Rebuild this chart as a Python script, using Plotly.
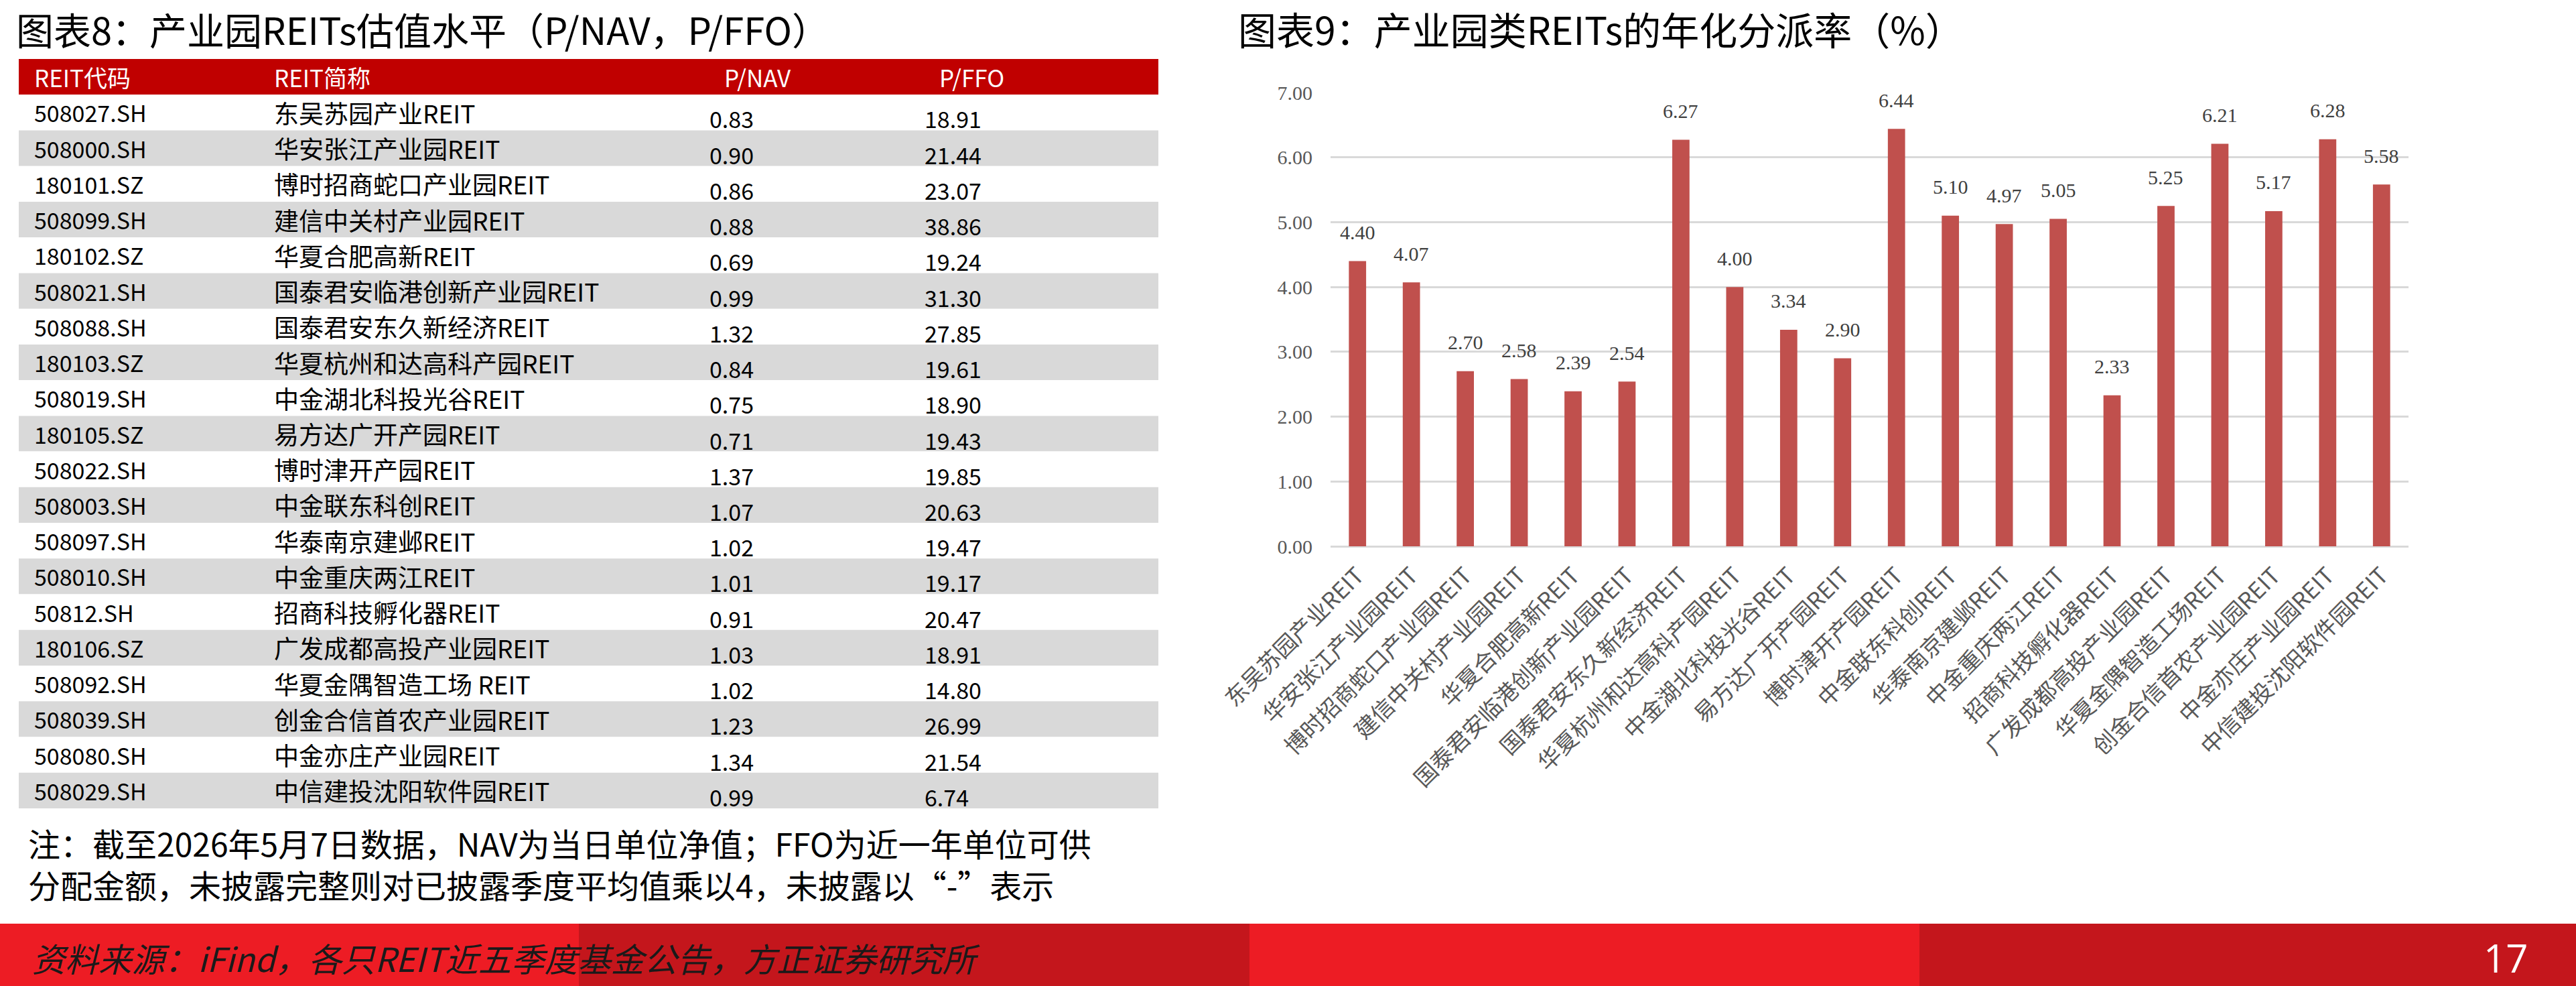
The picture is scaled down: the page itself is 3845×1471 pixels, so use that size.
import plotly.graph_objects as go

W, H = 3845, 1471

# ---------------- data ----------------
codes = ["508027.SH", "508000.SH", "180101.SZ", "508099.SH", "180102.SZ",
         "508021.SH", "508088.SH", "180103.SZ", "508019.SH", "180105.SZ",
         "508022.SH", "508003.SH", "508097.SH", "508010.SH", "50812.SH",
         "180106.SZ", "508092.SH", "508039.SH", "508080.SH", "508029.SH"]
names = ["东吴苏园产业REIT", "华安张江产业园REIT", "博时招商蛇口产业园REIT",
         "建信中关村产业园REIT", "华夏合肥高新REIT", "国泰君安临港创新产业园REIT",
         "国泰君安东久新经济REIT", "华夏杭州和达高科产园REIT", "中金湖北科投光谷REIT",
         "易方达广开产园REIT", "博时津开产园REIT", "中金联东科创REIT",
         "华泰南京建邺REIT", "中金重庆两江REIT", "招商科技孵化器REIT",
         "广发成都高投产业园REIT", "华夏金隅智造工场 REIT", "创金合信首农产业园REIT",
         "中金亦庄产业园REIT", "中信建投沈阳软件园REIT"]
p_nav = ["0.83", "0.90", "0.86", "0.88", "0.69", "0.99", "1.32", "0.84", "0.75", "0.71",
         "1.37", "1.07", "1.02", "1.01", "0.91", "1.03", "1.02", "1.23", "1.34", "0.99"]
p_ffo = ["18.91", "21.44", "23.07", "38.86", "19.24", "31.30", "27.85", "19.61", "18.90", "19.43",
         "19.85", "20.63", "19.47", "19.17", "20.47", "18.91", "14.80", "26.99", "21.54", "6.74"]
table_header = ["REIT代码", "REIT简称", "P/NAV", "P/FFO"]

chart_names = ["东吴苏园产业REIT", "华安张江产业园REIT", "博时招商蛇口产业园REIT",
               "建信中关村产业园REIT", "华夏合肥高新REIT", "国泰君安临港创新产业园REIT",
               "国泰君安东久新经济REIT", "华夏杭州和达高科产园REIT", "中金湖北科投光谷REIT",
               "易方达广开产园REIT", "博时津开产园REIT", "中金联东科创REIT",
               "华泰南京建邺REIT", "中金重庆两江REIT", "招商科技孵化器REIT",
               "广发成都高投产业园REIT", "华夏金隅智造工场REIT", "创金合信首农产业园REIT",
               "中金亦庄产业园REIT", "中信建投沈阳软件园REIT"]
dist_yield = [4.40, 4.07, 2.70, 2.58, 2.39, 2.54, 6.27, 4.00, 3.34, 2.90,
              6.44, 5.10, 4.97, 5.05, 2.33, 5.25, 6.21, 5.17, 6.28, 5.58]
y_ticks = [0, 1, 2, 3, 4, 5, 6, 7]

title_left = "图表8：产业园REITs估值水平（P/NAV，P/FFO）"
title_right = "图表9：产业园类REITs的年化分派率（%）"
note_lines = ["注：截至2026年5月7日数据，NAV为当日单位净值；FFO为近一年单位可供",
              "分配金额，未披露完整则对已披露季度平均值乘以4，未披露以“-”表示"]
source_text = "资料来源：iFind，各只REIT近五季度基金公告，方正证券研究所"
page_no = "17"

# ---------------- style / layout helpers ----------------
CJK = "Noto Sans CJK SC"
SERIF = "Liberation Serif"
RED = "#C00000"
BAR = "#C0504D"
GRID = "#D9D9D9"


def fx(p):
    return p / W


def fy(p):
    return 1 - p / H


fig = go.Figure()

# ---------------- bar chart ----------------
fig.add_trace(go.Bar(
    x=chart_names, y=dist_yield, xaxis="x", yaxis="y",
    marker=dict(color=BAR, line=dict(width=0)),
    hoverinfo="skip", showlegend=False,
))

annotations = []
for nm, v in zip(chart_names, dist_yield):
    annotations.append(dict(
        x=nm, y=v, xref="x", yref="y", text=f"{v:.2f}", showarrow=False,
        xanchor="center", yanchor="middle", yshift=43,
        font=dict(family=SERIF, size=30, color="#404040"),
    ))

# ---------------- table (drawn on its own axes) ----------------
n = len(codes)
row_idx = list(range(n + 1))  # 0 = header
row_colors = [RED] + [("#FFFFFF" if i % 2 == 1 else "#D9D9D9") for i in range(1, n + 1)]
TABLE_W = 1701
fig.add_trace(go.Bar(
    y=row_idx, x=[TABLE_W] * (n + 1), base=0, orientation="h", width=1,
    xaxis="x2", yaxis="y2", marker=dict(color=row_colors, line=dict(width=0)),
    hoverinfo="skip", showlegend=False,
))

col_x_body = [21, 379, 1029, 1350]
col_x_head = [21, 379, 1051, 1372]
body_sizes = [34, 37, 34, 34]
for j, h in enumerate(table_header):
    annotations.append(dict(
        x=col_x_head[j], y=0, xref="x2", yref="y2", text=h, showarrow=False,
        xanchor="left", yanchor="middle",
        font=dict(family=CJK, size=35, color="white"),
    ))
for i in range(n):
    cols = [codes[i], names[i], p_nav[i], p_ffo[i]]
    for j, t in enumerate(cols):
        annotations.append(dict(
            x=col_x_body[j], y=i + 1, xref="x2", yref="y2", text=t, showarrow=False,
            xanchor="left", yanchor="middle", yshift=(-9 if j >= 2 else 0),
            font=dict(family=CJK, size=body_sizes[j], color="black"),
        ))

shapes = [
    dict(type="line", xref="x2", yref="y2", x0=0, x1=TABLE_W, y0=n + 0.55, y1=n + 0.55,
         line=dict(color=RED, width=5)),
]

# ---------------- titles, note, footer ----------------
annotations += [
    dict(x=fx(22), y=fy(42), xref="paper", yref="paper", text=title_left, showarrow=False,
         xanchor="left", yanchor="middle", font=dict(family=CJK, size=56, color="black")),
    dict(x=fx(1846), y=fy(42), xref="paper", yref="paper", text=title_right, showarrow=False,
         xanchor="left", yanchor="middle", font=dict(family=CJK, size=57, color="black")),
    dict(x=fx(40), y=fy(1288), xref="paper", yref="paper", text="<br>".join(note_lines),
         showarrow=False, xanchor="left", yanchor="middle", align="left",
         font=dict(family=CJK, size=48, color="black")),
    dict(x=fx(46), y=fy(1428), xref="paper", yref="paper", text=source_text, showarrow=False,
         xanchor="left", yanchor="middle",
         font=dict(family=CJK, size=49.5, color="#1A1A1A", style="italic")),
    dict(x=fx(3740), y=fy(1428), xref="paper", yref="paper", text=page_no, showarrow=False,
         xanchor="center", yanchor="middle", font=dict(family="Open Sans", size=58, color="white")),
]

footer_bands = [(0, 864, "#ED1C24"), (864, 1865, "#C4161C"),
                (1865, 2865, "#ED1C24"), (2865, W, "#C4161C")]
for x0, x1, c in footer_bands:
    shapes.append(dict(type="rect", xref="paper", yref="paper", x0=fx(x0), x1=fx(x1),
                       y0=0, y1=fy(1378), fillcolor=c, line=dict(width=0), layer="below"))

fig.update_layout(
    width=W, height=H, margin=dict(l=0, r=0, t=0, b=0),
    paper_bgcolor="white", plot_bgcolor="rgba(0,0,0,0)",
    bargap=0.68, showlegend=False,
    annotations=annotations, shapes=shapes,
    xaxis=dict(domain=[fx(1986), fx(3595)], anchor="y", type="category",
               tickangle=-45, showgrid=False, showline=False, zeroline=False, ticks="",
               tickfont=dict(family=CJK, size=34, color="#595959"), automargin=False,
               ticklabelstandoff=16),
    yaxis=dict(domain=[fy(815), fy(138)], anchor="x", range=[0, 7], tickvals=y_ticks,
               tickformat=".2f", showgrid=True, gridcolor=GRID, gridwidth=3,
               zeroline=True, zerolinecolor=GRID, zerolinewidth=3, showline=False,
               ticks="", tickfont=dict(family=SERIF, size=30, color="#595959"),
               ticklabelstandoff=26, automargin=False),
    xaxis2=dict(domain=[fx(28), fx(1729)], anchor="y2", range=[0, TABLE_W], visible=False,
                fixedrange=True),
    yaxis2=dict(domain=[fy(1206), fy(88)], anchor="x2", range=[n + 0.5, -0.5], visible=False,
                fixedrange=True),
)

fig.write_html("out.html")
